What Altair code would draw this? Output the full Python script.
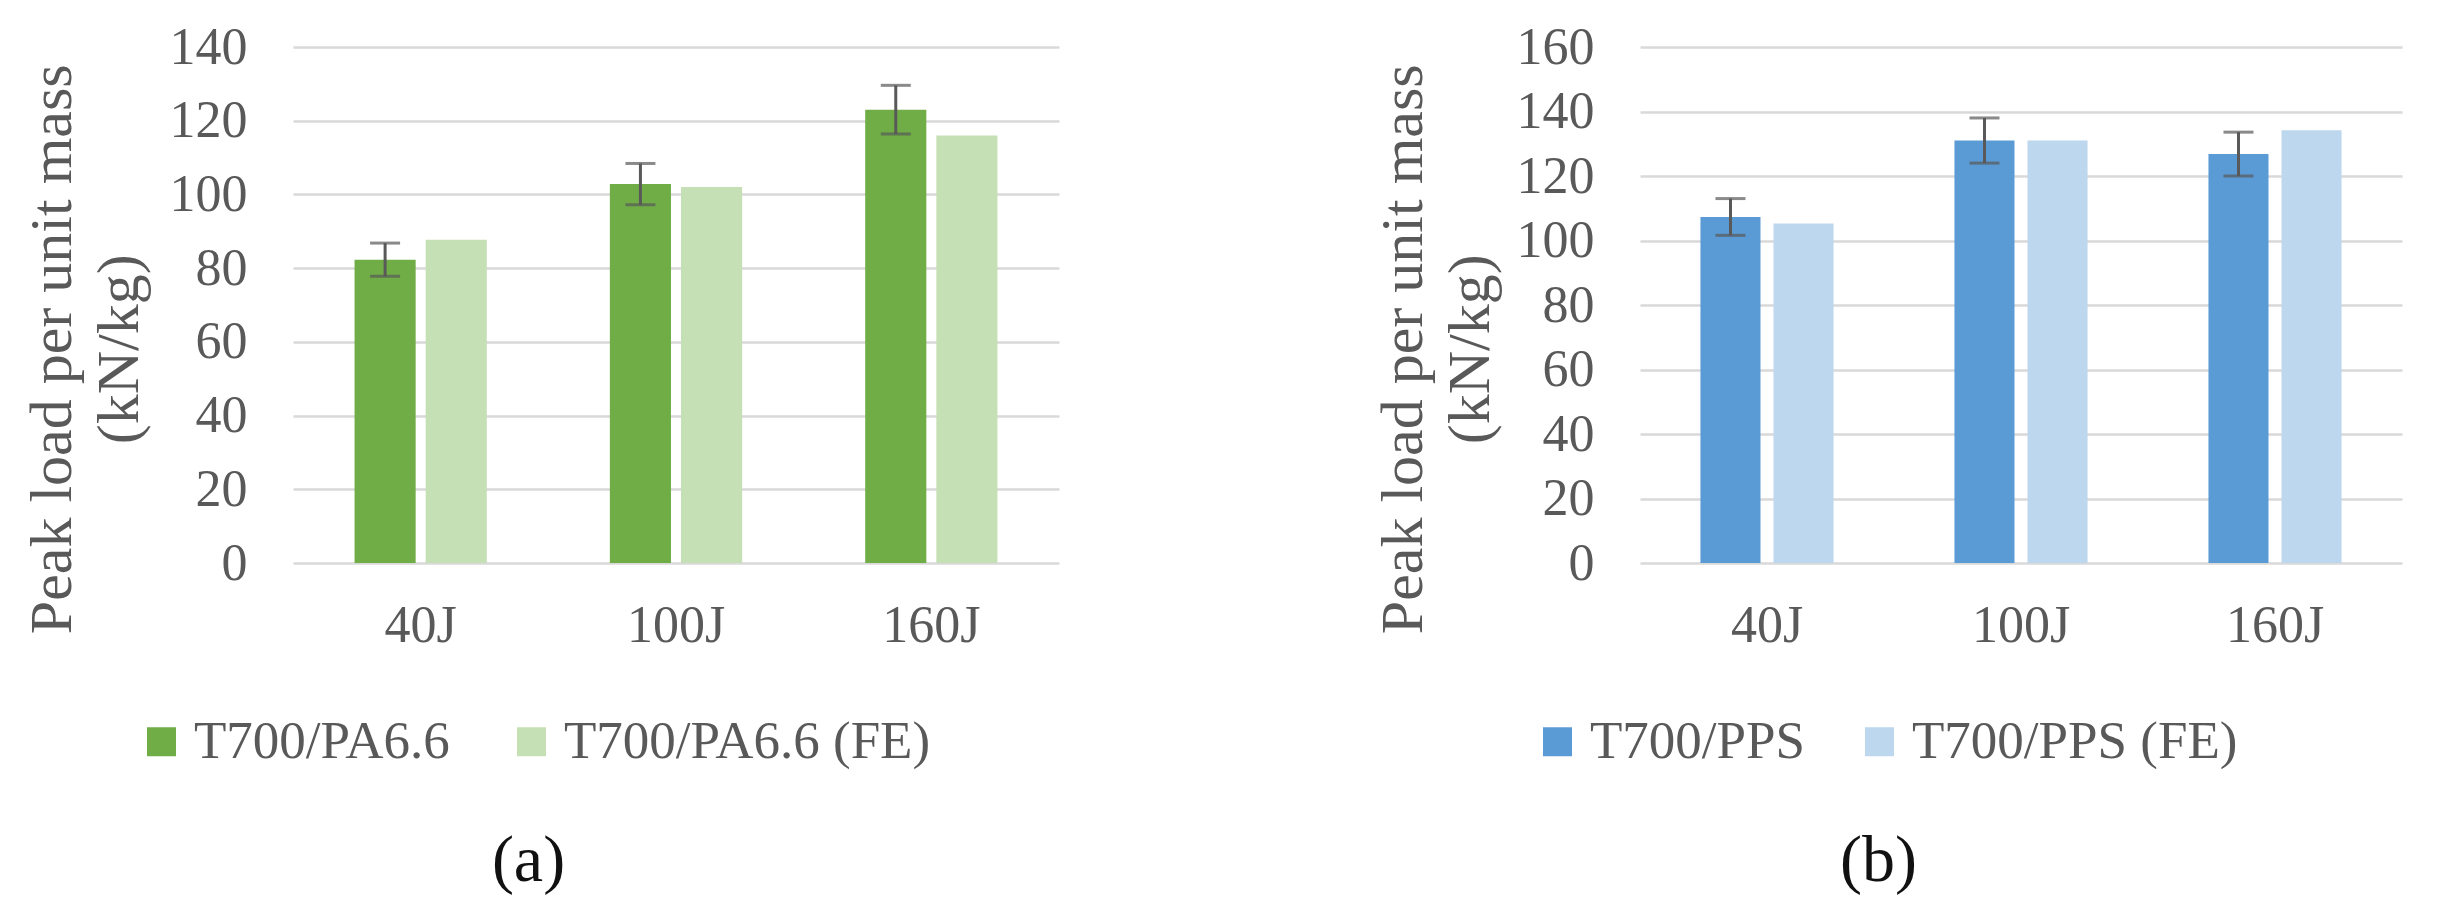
import altair as alt
import pandas as pd

# ---------------- data ----------------
energies = ["40J", "100J", "160J"]

pa_series = ["T700/PA6.6", "T700/PA6.6 (FE)"]
pa_exp = [82.3, 102.8, 123.0]
pa_err = [4.5, 5.6, 6.6]
pa_fe = [87.7, 102.0, 116.0]

pps_series = ["T700/PPS", "T700/PPS (FE)"]
pps_exp = [107.3, 131.0, 126.8]
pps_err = [5.7, 7.0, 6.8]
pps_fe = [105.3, 131.0, 134.2]

pa_colors = ["#70AD47", "#C5E0B4"]
pps_colors = ["#5B9BD5", "#BDD7EE"]

y_title = ["Peak load per unit mass", "(kN/kg)"]

FONT = "Liberation Serif"
GREY = "#595959"
GRID = "#D9D9D9"


def panel(series, exp, err, fe, colors, ymax, label, width, pi, pi2,
          legend_x, col_pad, title_x, label_x):
    bars_df = pd.DataFrame({
        "energy": energies * 2,
        "series": [series[0]] * 3 + [series[1]] * 3,
        "value": exp + fe,
    })
    err_df = pd.DataFrame({
        "energy": energies,
        "series": [series[0]] * 3,
        "lo": [v - e for v, e in zip(exp, err)],
        "hi": [v + e for v, e in zip(exp, err)],
    })
    cap_df = pd.DataFrame({
        "energy": energies * 2,
        "series": [series[0]] * 6,
        "v": [v - e for v, e in zip(exp, err)] + [v + e for v, e in zip(exp, err)],
    })

    x = alt.X(
        "energy:N", sort=energies,
        scale=alt.Scale(paddingInner=pi, paddingOuter=pi / 2),
        axis=alt.Axis(
            title=label, titleX=label_x, titleY=297, titleAlign="center",
            titleBaseline="middle", titleFont=FONT, titleFontSize=66,
            titleFontWeight="normal", titleColor="#111111",
            labelAngle=0, labelFont=FONT, labelFontSize=52, labelColor=GREY,
            labelPadding=37, domain=False, ticks=False, tickSize=0, grid=False,
        ),
    )
    xoff = alt.XOffset(
        "series:N", sort=series,
        scale=alt.Scale(domain=series, paddingInner=pi2, paddingOuter=0),
    )
    yscale = alt.Scale(domain=[0, ymax], nice=False)
    yaxis = alt.Axis(
        values=list(range(0, ymax + 1, 20)), grid=True, gridColor=GRID,
        gridWidth=2.5, domain=False, ticks=False, tickSize=0,
        labelFont=FONT, labelFontSize=52, labelColor=GREY, labelPadding=46,
        title=y_title, titleX=title_x, titleY=301.8, titleAngle=270,
        titleAlign="center", titleBaseline="alphabetic", titleFont=FONT,
        titleFontSize=60, titleLineHeight=67, titleFontWeight="normal",
        titleColor=GREY,
    )

    bars = alt.Chart(bars_df).mark_bar().encode(
        x=x,
        xOffset=xoff,
        y=alt.Y("value:Q", scale=yscale, axis=yaxis),
        color=alt.Color(
            "series:N", sort=series,
            scale=alt.Scale(domain=series, range=colors),
            legend=alt.Legend(
                orient="none", legendX=legend_x, legendY=668,
                direction="horizontal", title=None, symbolType="square",
                symbolSize=841, symbolStrokeWidth=0, labelFont=FONT,
                labelFontSize=53, labelColor=GREY, labelOffset=6,
                columnPadding=col_pad, padding=0, labelLimit=0,
            ),
        ),
    )

    rules = alt.Chart(err_df).mark_rule(color=GREY, strokeWidth=3).encode(
        x=alt.X("energy:N", sort=energies),
        xOffset=alt.XOffset("series:N", sort=series),
        y=alt.Y("lo:Q"),
        y2="hi:Q",
    )
    caps = alt.Chart(cap_df).mark_tick(
        color=GREY, size=30, thickness=3, orient="horizontal"
    ).encode(
        x=alt.X("energy:N", sort=energies),
        xOffset=alt.XOffset("series:N", sort=series),
        y=alt.Y("v:Q"),
    )

    return alt.layer(bars, rules, caps).properties(width=width, height=516)


pa = panel(pa_series, pa_exp, pa_err, pa_fe, pa_colors, 140, "(a)", 766,
           0.482, 0.141, -158, 55, -223, 235)
pb = panel(pps_series, pps_exp, pps_err, pps_fe, pps_colors, 160, "(b)", 762,
           0.476, 0.178, -109, 47, -219, 238)

chart = alt.hconcat(
    pa, pb, spacing=581, bounds="flush",
    padding={"left": 13, "top": 13, "right": 5, "bottom": 5},
).resolve_scale(
    color="independent", x="independent", y="independent", xOffset="independent"
).configure_view(stroke=None)

chart.save("out.html", embed_options={"renderer": "svg", "actions": False})
